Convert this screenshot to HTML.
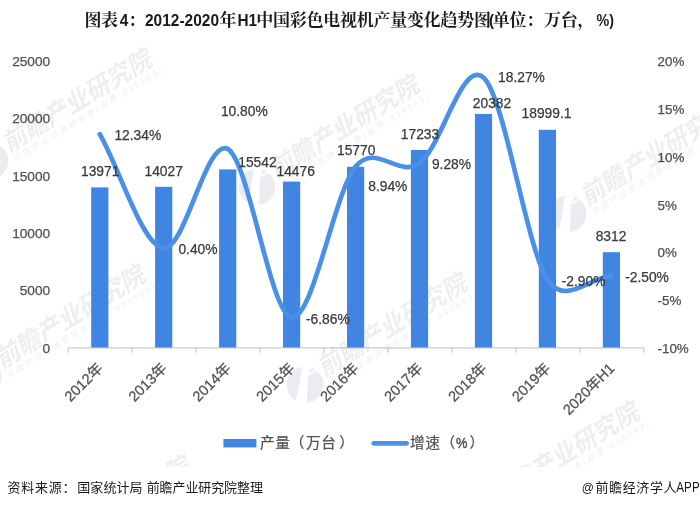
<!DOCTYPE html>
<html><head><meta charset="utf-8"><title>chart</title>
<style>
html,body{margin:0;padding:0;background:#fff;}
body{width:700px;height:507px;overflow:hidden;position:relative;font-family:"Liberation Sans","Noto Sans CJK SC",sans-serif;}
svg{position:absolute;left:0;top:0;}
.ax{font-size:13.7px;fill:#505050;stroke:#505050;stroke-width:0.25px;}
.xl{font-size:14.6px;fill:#505050;stroke:#505050;stroke-width:0.25px;}
.dl{font-size:13.8px;fill:#3a3a3a;stroke:#3a3a3a;stroke-width:0.25px;}
.ttl{font-family:"Liberation Sans","Noto Serif CJK SC",serif;font-weight:bold;font-size:17px;fill:#1a1a1a;}
.ft{font-size:13px;fill:#1a1a1a;}
.lg{font-size:14.67px;fill:#505050;stroke:#505050;stroke-width:0.2px;}
.wm{fill:#000;fill-opacity:0.066;font-weight:700;font-size:25.5px;}
.wms{fill:#000;fill-opacity:0.075;font-size:8.3px;}
</style></head><body>
<svg width="700" height="507" viewBox="0 0 700 507">
<defs><clipPath id="cp"><rect x="0" y="0" width="700" height="467"/></clipPath><clipPath id="lc"><circle cx="0" cy="0" r="18.3"/></clipPath></defs>

<text class="ttl" y="25.7"><tspan x="84.6" letter-spacing="-0.6">图表</tspan><tspan x="119.7" font-size="16.8" textLength="8.6" lengthAdjust="spacingAndGlyphs">4</tspan><tspan x="128.2">：</tspan><tspan x="145" font-size="16.8" textLength="74" lengthAdjust="spacingAndGlyphs">2012-2020</tspan><tspan x="219.6">年</tspan><tspan x="237.5" font-size="16.8" textLength="19.6" lengthAdjust="spacingAndGlyphs">H1</tspan><tspan x="256.2" letter-spacing="-0.25">中国彩色电视机产量变化趋势图</tspan><tspan x="489" font-size="16.8" textLength="5" lengthAdjust="spacingAndGlyphs">(</tspan><tspan x="492.8" letter-spacing="-0.25">单位：</tspan><tspan x="544" letter-spacing="-0.25">万台，</tspan><tspan x="596.5" font-size="16.8" textLength="17.5" lengthAdjust="spacingAndGlyphs">%)</tspan></text>
<path d="M68.1,347.9H644.0M68.3,347.9V352.7M132.2,347.9V352.7M196.2,347.9V352.7M260.2,347.9V352.7M324.1,347.9V352.7M388.1,347.9V352.7M452.0,347.9V352.7M516.0,347.9V352.7M579.9,347.9V352.7M643.9,347.9V352.7" stroke="#cbcbcb" stroke-width="1.25" fill="none"/>
<text class="ax" x="50.2" y="352.6" text-anchor="end">0</text>
<text class="ax" x="50.2" y="295.3" text-anchor="end">5000</text>
<text class="ax" x="50.2" y="238.0" text-anchor="end">10000</text>
<text class="ax" x="50.2" y="180.7" text-anchor="end">15000</text>
<text class="ax" x="50.2" y="123.4" text-anchor="end">20000</text>
<text class="ax" x="50.2" y="66.1" text-anchor="end">25000</text>
<text class="ax" x="657.5" y="352.8" style="font-size:13.4px">-10%</text>
<text class="ax" x="657.5" y="305.1" style="font-size:13.4px">-5%</text>
<text class="ax" x="657.5" y="257.3" style="font-size:13.4px">0%</text>
<text class="ax" x="657.5" y="209.6" style="font-size:13.4px">5%</text>
<text class="ax" x="657.5" y="161.8" style="font-size:13.4px">10%</text>
<text class="ax" x="657.5" y="114.0" style="font-size:13.4px">15%</text>
<text class="ax" x="657.5" y="66.3" style="font-size:13.4px">20%</text>
<g clip-path="url(#cp)">
<g transform="translate(9,153) rotate(-31.5)">
<g transform="translate(-20.2,-3.2) rotate(31.5)" clip-path="url(#lc)"><path fill="#3c5082" fill-opacity="0.11" fill-rule="evenodd" d="M-19,-19H19V19H-19Z M-3,-20 L7.5,-19 L3.5,-11.2 L11.8,-16 L12.6,-14.6 L2.9,-9 L1.8,19 L-9.5,17 L-5.5,-2 Z"/></g>
<text class="wm" x="0" y="0" textLength="170" lengthAdjust="spacingAndGlyphs" transform="skewX(-12)">前瞻产业研究院</text>
<text class="wms" x="3" y="11.5" textLength="172" lengthAdjust="spacing" transform="skewX(-12)">中国产业咨询领导者(股票:839599)</text>
</g>
<g transform="translate(276,179) rotate(-31.5)">
<g transform="translate(-20.2,-3.2) rotate(31.5)" clip-path="url(#lc)"><path fill="#3c5082" fill-opacity="0.11" fill-rule="evenodd" d="M-19,-19H19V19H-19Z M-3,-20 L7.5,-19 L3.5,-11.2 L11.8,-16 L12.6,-14.6 L2.9,-9 L1.8,19 L-9.5,17 L-5.5,-2 Z"/></g>
<text class="wm" x="0" y="0" textLength="170" lengthAdjust="spacingAndGlyphs" transform="skewX(-12)">前瞻产业研究院</text>
<text class="wms" x="3" y="11.5" textLength="172" lengthAdjust="spacing" transform="skewX(-12)">中国产业咨询领导者(股票:839599)</text>
</g>
<g transform="translate(587,206) rotate(-31.5)">
<g transform="translate(-20.2,-3.2) rotate(31.5)" clip-path="url(#lc)"><path fill="#3c5082" fill-opacity="0.11" fill-rule="evenodd" d="M-19,-19H19V19H-19Z M-3,-20 L7.5,-19 L3.5,-11.2 L11.8,-16 L12.6,-14.6 L2.9,-9 L1.8,19 L-9.5,17 L-5.5,-2 Z"/></g>
<text class="wm" x="0" y="0" textLength="170" lengthAdjust="spacingAndGlyphs" transform="skewX(-12)">前瞻产业研究院</text>
<text class="wms" x="3" y="11.5" textLength="172" lengthAdjust="spacing" transform="skewX(-12)">中国产业咨询领导者(股票:839599)</text>
</g>
<g transform="translate(2,369) rotate(-31.5)">
<g transform="translate(-20.2,-3.2) rotate(31.5)" clip-path="url(#lc)"><path fill="#3c5082" fill-opacity="0.11" fill-rule="evenodd" d="M-19,-19H19V19H-19Z M-3,-20 L7.5,-19 L3.5,-11.2 L11.8,-16 L12.6,-14.6 L2.9,-9 L1.8,19 L-9.5,17 L-5.5,-2 Z"/></g>
<text class="wm" x="0" y="0" textLength="170" lengthAdjust="spacingAndGlyphs" transform="skewX(-12)">前瞻产业研究院</text>
<text class="wms" x="3" y="11.5" textLength="172" lengthAdjust="spacing" transform="skewX(-12)">中国产业咨询领导者(股票:839599)</text>
</g>
<g transform="translate(324,377) rotate(-31.5)">
<g transform="translate(-20.2,-3.2) rotate(31.5)" clip-path="url(#lc)"><path fill="#3c5082" fill-opacity="0.11" fill-rule="evenodd" d="M-19,-19H19V19H-19Z M-3,-20 L7.5,-19 L3.5,-11.2 L11.8,-16 L12.6,-14.6 L2.9,-9 L1.8,19 L-9.5,17 L-5.5,-2 Z"/></g>
<text class="wm" x="0" y="0" textLength="170" lengthAdjust="spacingAndGlyphs" transform="skewX(-12)">前瞻产业研究院</text>
<text class="wms" x="3" y="11.5" textLength="172" lengthAdjust="spacing" transform="skewX(-12)">中国产业咨询领导者(股票:839599)</text>
</g>
<g transform="translate(496,506) rotate(-31.5)">
<g transform="translate(-20.2,-3.2) rotate(31.5)" clip-path="url(#lc)"><path fill="#3c5082" fill-opacity="0.11" fill-rule="evenodd" d="M-19,-19H19V19H-19Z M-3,-20 L7.5,-19 L3.5,-11.2 L11.8,-16 L12.6,-14.6 L2.9,-9 L1.8,19 L-9.5,17 L-5.5,-2 Z"/></g>
<text class="wm" x="0" y="0" textLength="170" lengthAdjust="spacingAndGlyphs" transform="skewX(-12)">前瞻产业研究院</text>
<text class="wms" x="3" y="11.5" textLength="172" lengthAdjust="spacing" transform="skewX(-12)">中国产业咨询领导者(股票:839599)</text>
</g>
<g transform="translate(47,560) rotate(-31.5)">
<g transform="translate(-20.2,-3.2) rotate(31.5)" clip-path="url(#lc)"><path fill="#3c5082" fill-opacity="0.11" fill-rule="evenodd" d="M-19,-19H19V19H-19Z M-3,-20 L7.5,-19 L3.5,-11.2 L11.8,-16 L12.6,-14.6 L2.9,-9 L1.8,19 L-9.5,17 L-5.5,-2 Z"/></g>
<text class="wm" x="0" y="0" textLength="170" lengthAdjust="spacingAndGlyphs" transform="skewX(-12)">前瞻产业研究院</text>
<text class="wms" x="3" y="11.5" textLength="172" lengthAdjust="spacing" transform="skewX(-12)">中国产业咨询领导者(股票:839599)</text>
</g>
</g>
<rect x="91.2" y="187.4" width="17.2" height="160.1" fill="#4085E2"/>
<rect x="155.1" y="186.8" width="17.2" height="160.7" fill="#4085E2"/>
<rect x="219.1" y="169.4" width="17.2" height="178.1" fill="#4085E2"/>
<rect x="283.0" y="181.6" width="17.2" height="165.9" fill="#4085E2"/>
<rect x="347.0" y="166.8" width="17.2" height="180.7" fill="#4085E2"/>
<rect x="410.9" y="150.0" width="17.2" height="197.5" fill="#4085E2"/>
<rect x="474.9" y="113.9" width="17.2" height="233.6" fill="#4085E2"/>
<rect x="538.8" y="129.8" width="17.2" height="217.7" fill="#4085E2"/>
<rect x="602.8" y="252.2" width="17.2" height="95.3" fill="#4085E2"/>
<path d="M99.8,134.2 C121.1,172.2 142.4,245.7 163.7,248.2 C185.0,250.6 206.4,137.3 227.7,148.9 C249.0,160.4 270.3,314.6 291.6,317.5 C312.9,320.5 334.3,192.3 355.6,166.6 C376.0,142.0 398.2,178.2 419.5,163.4 C440.8,148.5 462.2,58.1 483.5,77.5 C504.8,96.9 526.1,246.6 547.4,279.7 C564.8,306.6 590.1,277.1 611.4,275.9" fill="none" stroke="#4A90E8" stroke-width="4.7" stroke-linecap="round" stroke-linejoin="round"/>
<text class="xl" transform="translate(103.8,369.3) rotate(-45)" text-anchor="end">2012年</text>
<text class="xl" transform="translate(167.7,369.3) rotate(-45)" text-anchor="end">2013年</text>
<text class="xl" transform="translate(231.7,369.3) rotate(-45)" text-anchor="end">2014年</text>
<text class="xl" transform="translate(295.6,369.3) rotate(-45)" text-anchor="end">2015年</text>
<text class="xl" transform="translate(359.6,369.3) rotate(-45)" text-anchor="end">2016年</text>
<text class="xl" transform="translate(423.5,369.3) rotate(-45)" text-anchor="end">2017年</text>
<text class="xl" transform="translate(487.5,369.3) rotate(-45)" text-anchor="end">2018年</text>
<text class="xl" transform="translate(551.4,369.3) rotate(-45)" text-anchor="end">2019年</text>
<text class="xl" transform="translate(615.4,369.3) rotate(-45)" text-anchor="end">2020年H1</text>
<text class="dl" x="100.2" y="175.6" text-anchor="middle">13971</text>
<text class="dl" x="163.7" y="175.6" text-anchor="middle">14027</text>
<text class="dl" x="257.4" y="167" text-anchor="middle">15542</text>
<text class="dl" x="295.7" y="175.6" text-anchor="middle">14476</text>
<text class="dl" x="356.2" y="154.6" text-anchor="middle">15770</text>
<text class="dl" x="420" y="138.6" text-anchor="middle">17233</text>
<text class="dl" x="492" y="107.6" text-anchor="middle">20382</text>
<text class="dl" x="546.5" y="118.4" text-anchor="middle">18999.1</text>
<text class="dl" x="611" y="241" text-anchor="middle">8312</text>
<text class="dl" x="137.8" y="139.6" text-anchor="middle">12.34%</text>
<text class="dl" x="198" y="254" text-anchor="middle">0.40%</text>
<text class="dl" x="244.3" y="115.6" text-anchor="middle">10.80%</text>
<text class="dl" x="327.8" y="324" text-anchor="middle">-6.86%</text>
<text class="dl" x="387.8" y="191.1" text-anchor="middle">8.94%</text>
<text class="dl" x="451.5" y="169" text-anchor="middle">9.28%</text>
<text class="dl" x="521.5" y="82" text-anchor="middle">18.27%</text>
<text class="dl" x="583.6" y="285.5" text-anchor="middle">-2.90%</text>
<text class="dl" x="647" y="282" text-anchor="middle">-2.50%</text>
<rect x="223.4" y="439" width="33" height="8.4" fill="#4085E2"/>
<text class="lg" x="260" y="448.3" letter-spacing="0.65">产量<tspan dx="-1">（</tspan><tspan dx="1">万台</tspan><tspan dx="2.6">）</tspan></text>
<line x1="373.8" y1="443.3" x2="406.6" y2="443.3" stroke="#4A90E8" stroke-width="4.8" stroke-linecap="round"/>
<text class="lg" x="410" y="448.3" letter-spacing="0.65">增速（<tspan letter-spacing="0" dx="0.2" textLength="11.4" lengthAdjust="spacingAndGlyphs" stroke-width="0.45">%</tspan><tspan dx="2">）</tspan></text>
<text class="ft" y="491.6"><tspan x="7.5" letter-spacing="0.75">资料来源：</tspan><tspan x="77.2" letter-spacing="0.1">国家统计局</tspan><tspan> </tspan><tspan x="146.7" letter-spacing="-0.1">前瞻产业研究院整理</tspan></text>
<text class="ft" y="491.6"><tspan x="581.8" font-size="12">@</tspan><tspan x="595.5" letter-spacing="0.6">前瞻经济学人</tspan><tspan x="676.3" font-size="14" textLength="23.4" lengthAdjust="spacingAndGlyphs">APP</tspan></text>
</svg></body></html>
